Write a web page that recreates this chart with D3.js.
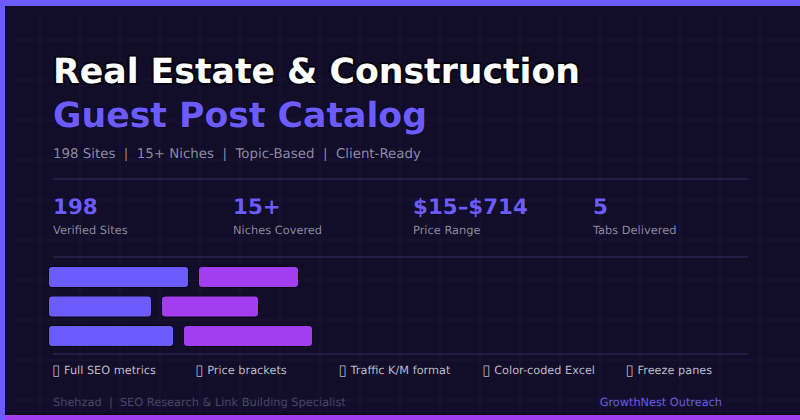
<!DOCTYPE html>
<html>
<head>
<meta charset="utf-8">
<script src="https://cdn.jsdelivr.net/npm/d3@7"></script>
<style>
    html, body { margin: 0; padding: 0; background: #120e2a; }
    svg { display: block; }
    text { font-family: "DejaVu Sans", sans-serif; text-rendering: geometricPrecision; }
</style>
</head>
<body>
<div id="chart"></div>
<script>
const titleLines = ['Real Estate & Construction', 'Guest Post Catalog'];
const subtitle = '198 Sites  |  15+ Niches  |  Topic-Based  |  Client-Ready';

const statValues = ['198', '15+', '$15–$714', '5'];
const statLabels = ['Verified Sites', 'Niches Covered', 'Price Range', 'Tabs Delivered'];

// bar lengths, there is no axis in the original
const rows = ['row1', 'row2', 'row3'];
const blueBars = [139, 102, 124];
const purpleBars = [99, 96, 128];

const features = ['Full SEO metrics', 'Price brackets', 'Traffic K/M format', 'Color-coded Excel', 'Freeze panes'];
const featureX = [53, 196.2, 339.6, 483.2, 626.6];

const footerLeft = 'Shehzad  |  SEO Research & Link Building Specialist';
const footerRight = 'GrowthNest Outreach';

const width = 800;
const height = 420;
const violet = '#6c5ce7';
const brightBlue = '#6c5cff';
const purple = '#a33df0';
const shadow = '#07050f';

const svg = d3.select('#chart').append('svg')
    .attr('width', width)
    .attr('height', height);

svg.append('rect').attr('width', width).attr('height', height).attr('fill', '#120e2a');

// background grid
svg.append('g').selectAll('line')
    .data(d3.range(40, 800, 40))
    .enter().append('line')
    .attr('x1', d => d).attr('x2', d => d)
    .attr('y1', 16).attr('y2', 414)
    .attr('stroke', '#1b1539').attr('stroke-width', 1);
svg.append('g').selectAll('line')
    .data(d3.range(40, 420, 40))
    .enter().append('line')
    .attr('x1', 16).attr('x2', 800)
    .attr('y1', d => d).attr('y2', d => d)
    .attr('stroke', '#1b1539').attr('stroke-width', 1);

// frame
svg.append('rect').attr('x', 5).attr('y', 6).attr('width', 1).attr('height', height).attr('fill', shadow);
svg.append('rect').attr('x', 0).attr('y', 413.5).attr('width', width).attr('height', 2).attr('fill', shadow);
svg.append('rect').attr('x', 0).attr('y', 415).attr('width', width).attr('height', 5).attr('fill', purple);
svg.append('rect').attr('x', 0).attr('y', 0).attr('width', 5).attr('height', height).attr('fill', brightBlue);
svg.append('rect').attr('x', 0).attr('y', 0).attr('width', width).attr('height', 6).attr('fill', brightBlue);

function label(x, y, str, size, weight, fill, outline, anchor) {
    return svg.append('text')
        .attr('x', x).attr('y', y)
        .attr('font-size', size)
        .attr('font-weight', weight)
        .attr('fill', fill)
        .attr('stroke', shadow)
        .attr('stroke-width', outline)
        .attr('paint-order', 'stroke')
        .attr('stroke-linejoin', 'round')
        .attr('text-anchor', anchor || 'start')
        .style('white-space', 'pre')
        .text(str);
}

label(53, 83, titleLines[0], 34.7, 'bold', '#ffffff', 4);
label(53, 127, titleLines[1], 34.7, 'bold', brightBlue, 1);
label(53, 158, subtitle, 13.37, 'normal', '#8f8aad', 0.6);

// separators
[179, 257, 354].forEach(y => {
    svg.append('line')
        .attr('x1', 53).attr('x2', 748)
        .attr('y1', y).attr('y2', y)
        .attr('stroke', '#2a2350').attr('stroke-width', 1.5);
});

// stats
const statX = d3.scalePoint().domain(statValues).range([53, 593]);
statValues.forEach((d, i) => {
    label(statX(d), 214, d, 21.4, 'bold', brightBlue, 1);
    label(statX(d), 234, statLabels[i], 11.4, 'normal', '#8f8aa9', 0.6);
});

// bars
const x = d3.scaleLinear().domain([0, 800]).range([0, 800]);
const y = d3.scaleBand().domain(rows).range([267, 346]).paddingInner(0.322);
const barLeft = 49;
const barGap = 11;

const barGroup = svg.append('g');
barGroup.selectAll('.blue')
    .data(rows)
    .enter().append('rect')
    .attr('class', 'blue')
    .attr('x', barLeft)
    .attr('y', d => y(d))
    .attr('width', (d, i) => x(blueBars[i]))
    .attr('height', y.bandwidth())
    .attr('rx', 3)
    .attr('fill', brightBlue)
    .attr('stroke', shadow).attr('stroke-width', 1.5).attr('paint-order', 'stroke');
barGroup.selectAll('.purple')
    .data(rows)
    .enter().append('rect')
    .attr('class', 'purple')
    .attr('x', (d, i) => barLeft + x(blueBars[i]) + barGap)
    .attr('y', d => y(d))
    .attr('width', (d, i) => x(purpleBars[i]))
    .attr('height', y.bandwidth())
    .attr('rx', 3)
    .attr('fill', purple)
    .attr('stroke', shadow).attr('stroke-width', 1.5).attr('paint-order', 'stroke');

// feature row, the boxes stand in for the missing glyphs of the original
features.forEach((d, i) => {
    label(featureX[i] - 1, 375, '▯', 15, 'normal', '#b9b6cc', 0.6);
    label(featureX[i] + 11, 374, d, 11.3, 'normal', '#c0bdd3', 0.6);
});

label(53, 406, footerLeft, 11.35, 'normal', '#4a4566', 0);
label(722, 406, footerRight, 11.3, 'normal', violet, 0, 'end');
</script>
</body>
</html>
